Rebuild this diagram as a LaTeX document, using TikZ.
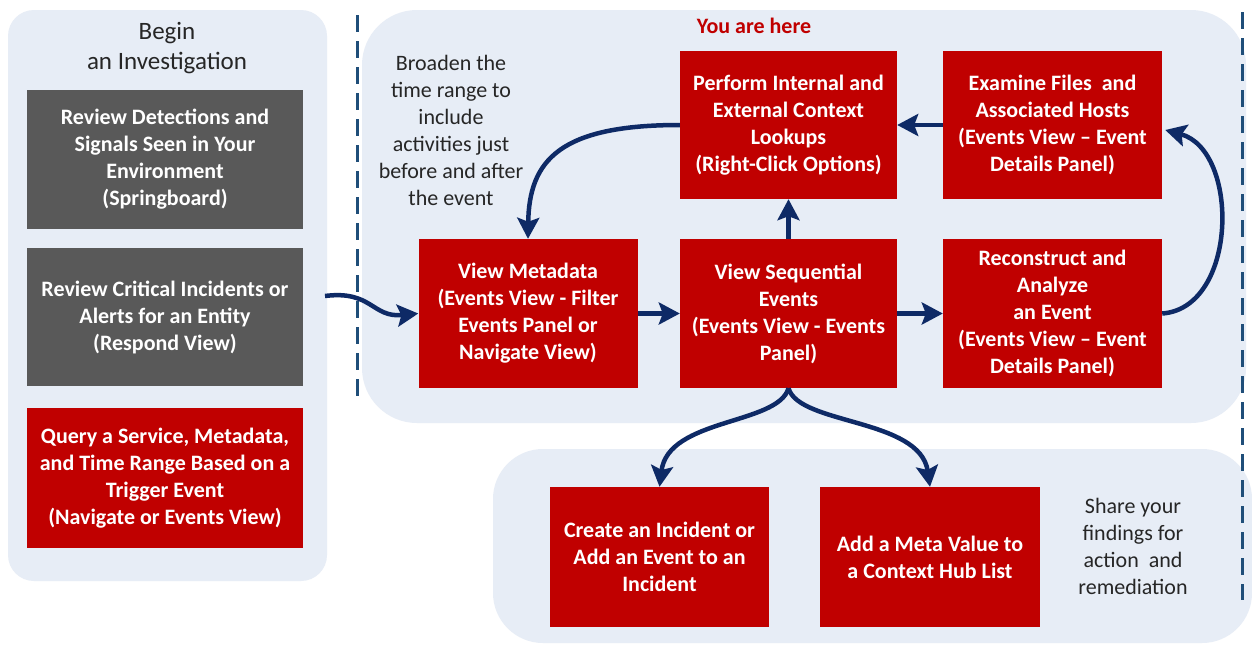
\documentclass[tikz,border=0pt]{standalone}
\usepackage{fontspec}
\setmainfont{Carlito}
\usetikzlibrary{arrows.meta}
\definecolor{panelfill}{HTML}{E7EDF6}
\definecolor{boxred}{HTML}{C00000}
\definecolor{boxgray}{HTML}{595959}
\definecolor{navy}{HTML}{0E2A66}
\definecolor{dashblue}{HTML}{1F4E79}
\definecolor{txtgray}{HTML}{262626}
\tikzset{
  panel/.style={fill=panelfill, draw=none},
  redbox/.style={fill=boxred, draw=none, text=white, font=\bfseries\fontsize{22}{27}\selectfont, align=center, inner sep=0pt},
  graybox/.style={fill=boxgray, draw=none, text=white, font=\bfseries\fontsize{22}{27}\selectfont, align=center, inner sep=0pt},
  note/.style={text=txtgray, font=\fontsize{22}{27}\selectfont, align=center, inner sep=0pt},
  flow/.style={draw=navy, line width=4.5pt, -{Stealth[length=21pt,width=22pt,inset=4pt]}},
  divider/.style={draw=dashblue, line width=3pt, dash pattern=on 17pt off 9pt}
}
\begin{document}
\begin{tikzpicture}[x=1pt,y=-1pt]
\useasboundingbox (0,0) rectangle (1252,645);
\fill[white] (0,0) rectangle (1252,645);
% panels
\path[panel, rounded corners=26pt] (8,10) rectangle (327,581);
\path[panel, rounded corners=55pt] (362,10) rectangle (1246,423);
\path[panel, rounded corners=50pt] (493,449) rectangle (1252,643);
% dividers
\draw[divider] (357,15) -- (357,398);
\draw[divider] (1242,12) -- (1242,600);
% left column
\node[note, font=\fontsize{25}{30}\selectfont] (begin) at (167,48) {Begin\\an Investigation};
\node[graybox, minimum width=276pt, minimum height=139pt] (detect) at (165,159.5) {Review Detections and\\Signals Seen in Your\\Environment\\(Springboard)};
\node[graybox, minimum width=276pt, minimum height=138pt] (crit) at (165,317) {Review Critical Incidents or\\Alerts for an Entity\\(Respond View)};
\node[redbox, minimum width=276pt, minimum height=140pt] (query) at (165,478) {Query a Service, Metadata,\\and Time Range Based on a\\Trigger Event\\(Navigate or Events View)};
% main panel
\node[text=boxred, font=\bfseries\fontsize{22}{27}\selectfont, inner sep=0pt] (here) at (754,26) {You are here};
\node[note] (broaden) at (451,130.5) {Broaden the\\time range to\\include\\activities just\\before and after\\the event};
\node[redbox, minimum width=217pt, minimum height=148pt] (perf) at (788.5,125) {Perform Internal and\\External Context\\Lookups\\(Right-Click Options)};
\node[redbox, minimum width=219pt, minimum height=148pt] (exam) at (1052.5,125) {Examine Files~ and\\Associated Hosts\\(Events View -- Event\\Details Panel)};
\node[redbox, minimum width=219pt, minimum height=149pt] (meta) at (528,313.5) {View Metadata\\(Events View - Filter\\Events Panel or\\Navigate View)};
\node[redbox, minimum width=217pt, minimum height=149pt] (seq) at (788.5,313.5) {View Sequential\\Events\\(Events View - Events\\Panel)};
\node[redbox, minimum width=219pt, minimum height=149pt] (recon) at (1052.5,313.5) {Reconstruct and\\Analyze\\an Event\\(Events View -- Event\\Details Panel)};
% bottom panel
\node[redbox, minimum width=219pt, minimum height=140pt] (inc) at (659.5,557) {Create an Incident or\\Add an Event to an\\Incident};
\node[redbox, minimum width=220pt, minimum height=140pt] (hub) at (930,557) {Add a Meta Value to\\a Context Hub List};
\node[note] (share) at (1133,546.5) {Share your\\findings for\\action~ and\\remediation};
% connectors
\coordinate (startin) at (325,296);
\draw[flow] (startin) .. controls (372,290) and (372,318) .. (meta.west);
\draw[flow] (meta.east) -- (seq.west);
\draw[flow] (seq.east) -- (recon.west);
\draw[flow] (seq.north) -- (perf.south);
\draw[flow] (exam.west) -- (perf.east);
\draw[flow] (perf.west) .. controls (560,125) and (529,160) .. (meta.north);
\draw[flow] (recon.east) .. controls (1238,308) and (1240,150) .. ([xshift=3pt,yshift=-5pt]exam.east);
\draw[flow] (seq.south) .. controls (778,425) and (668,418) .. (inc.north);
\draw[flow] (seq.south) .. controls (799,425) and (920,418) .. (hub.north);
\end{tikzpicture}
\end{document}
